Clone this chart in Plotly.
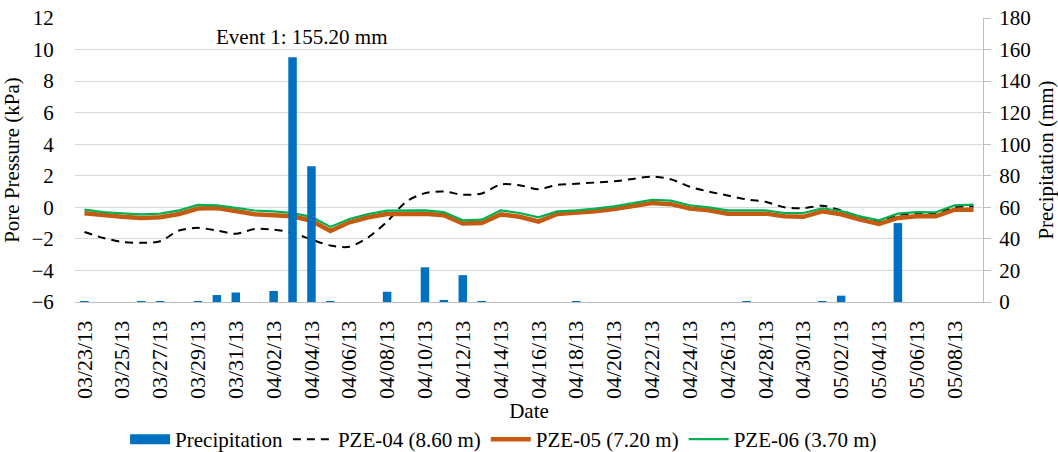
import pandas as pd
import plotly.graph_objects as go

dates = pd.date_range("2013-03-23", "2013-05-09", freq="D")

precip = [0.5, 0, 0, 0.5, 0.5, 0, 0.5, 4.4, 6, 0,
          7, 155.2, 86, 0.5, 0, 0, 6.5, 0, 22, 1.3,
          17, 0.5, 0, 0, 0, 0, 0.5, 0, 0, 0,
          0, 0, 0, 0, 0, 0.5, 0, 0, 0, 0.5,
          4, 0, 0, 50, 0, 0, 0, 0]

pze04 = [-1.56, -1.94, -2.19, -2.25, -2.15, -1.47, -1.3, -1.47, -1.68, -1.37,
         -1.41, -1.62, -2.04, -2.42, -2.5, -1.9, -0.9, 0.35, 0.9, 1.0,
         0.8, 0.88, 1.45, 1.4, 1.15, 1.42, 1.5, 1.57, 1.65, 1.8,
         1.95, 1.78, 1.3, 1.0, 0.75, 0.5, 0.35, 0.0, -0.05, 0.1,
         -0.2, -0.6, -0.85, -0.5, -0.4, -0.4, 0.0, 0.05]

pze05 = [-0.37, -0.5, -0.6, -0.68, -0.63, -0.42, -0.08, -0.05, -0.25, -0.44,
         -0.5, -0.57, -0.85, -1.5, -0.95, -0.63, -0.42, -0.4, -0.4, -0.5,
         -1.02, -1.0, -0.45, -0.6, -0.9, -0.42, -0.37, -0.25, -0.1, 0.07,
         0.27, 0.2, -0.07, -0.19, -0.4, -0.4, -0.4, -0.57, -0.6, -0.25,
         -0.44, -0.78, -1.05, -0.67, -0.57, -0.57, -0.15, -0.15]

pze06 = [-0.15, -0.3, -0.38, -0.44, -0.4, -0.19, 0.15, 0.13, -0.04, -0.2,
         -0.25, -0.36, -0.6, -1.24, -0.74, -0.42, -0.21, -0.19, -0.19, -0.3,
         -0.82, -0.78, -0.19, -0.36, -0.63, -0.25, -0.19, -0.08, 0.06, 0.27,
         0.48, 0.42, 0.13, 0.0, -0.19, -0.19, -0.19, -0.36, -0.36, -0.06,
         -0.23, -0.57, -0.82, -0.4, -0.3, -0.32, 0.13, 0.17]

tick_dates = dates[::2]
FONT = "Liberation Serif, Times New Roman, serif"
BLUE = "#0070C0"

fig = go.Figure()
fig.add_trace(go.Bar(x=dates, y=precip, name="Precipitation", yaxis="y2",
                     marker=dict(color=BLUE, line=dict(width=0)),
                     width=0.45 * 86400000, showlegend=False))
# legend entry shaped like the wide blue rectangle of the reference
fig.add_trace(go.Scatter(x=[None], y=[None], name="Precipitation", mode="lines",
                         line=dict(color=BLUE, width=10), showlegend=True))
fig.add_trace(go.Scatter(x=dates, y=pze04, name="PZE-04 (8.60 m)", mode="lines",
                         line=dict(color="black", width=2, dash="8px,6px",
                                   shape="spline", smoothing=0.8)))
fig.add_trace(go.Scatter(x=dates, y=pze05, name="PZE-05 (7.20 m)", mode="lines",
                         line=dict(color="#C55A11", width=4.5)))
fig.add_trace(go.Scatter(x=dates, y=pze06, name="PZE-06 (3.70 m)", mode="lines",
                         line=dict(color="#00B050", width=2.2)))

fig.add_annotation(x=dates[11], y=155.2, yref="y2", text="Event 1: 155.20 mm",
                   showarrow=False, yanchor="bottom", yshift=6, xshift=9,
                   font=dict(family=FONT, size=21, color="black"))

fig.update_layout(
    width=1058, height=452,
    margin=dict(l=75, r=75, t=18, b=150, autoexpand=False),
    paper_bgcolor="white", plot_bgcolor="white",
    font=dict(family=FONT, size=21, color="black"),
    showlegend=True,
    legend=dict(orientation="h", x=0.472, xanchor="center", y=-0.412,
                yanchor="top", font=dict(size=21), traceorder="normal",
                itemwidth=40, tracegroupgap=0, bgcolor="rgba(0,0,0,0)"),
    xaxis=dict(type="date", automargin=False,
               range=[dates[0] - pd.Timedelta(hours=12), dates[-1] + pd.Timedelta(hours=12)],
               tickvals=list(tick_dates), tickformat="%m/%d/%y", tickangle=-90,
               tickfont=dict(size=22),
               showgrid=False, showline=True, linecolor="#BFBFBF", linewidth=1,
               ticks="outside", ticklen=9, tickcolor="rgba(0,0,0,0)", zeroline=False,
               title=dict(text="Date", standoff=4, font=dict(size=21))),
    yaxis=dict(range=[-6, 12], dtick=2, tick0=-6, showgrid=True, gridcolor="#D9D9D9",
               gridwidth=1, zeroline=False, showline=False, automargin=False,
               ticks="outside", ticklen=16, tickcolor="rgba(0,0,0,0)",
               title=dict(text="Pore Pressure (kPa)", standoff=8, font=dict(size=21))),
    yaxis2=dict(range=[0, 180], dtick=20, overlaying="y", side="right",
                showgrid=False, zeroline=False, showline=True, linecolor="#BFBFBF",
                linewidth=1, ticks="outside", ticklen=7, tickcolor="#BFBFBF",
                ticklabelstandoff=4, automargin=False,
                title=dict(text="Precipitation (mm)", standoff=29, font=dict(size=21))),
)

fig.write_html("out.html")
